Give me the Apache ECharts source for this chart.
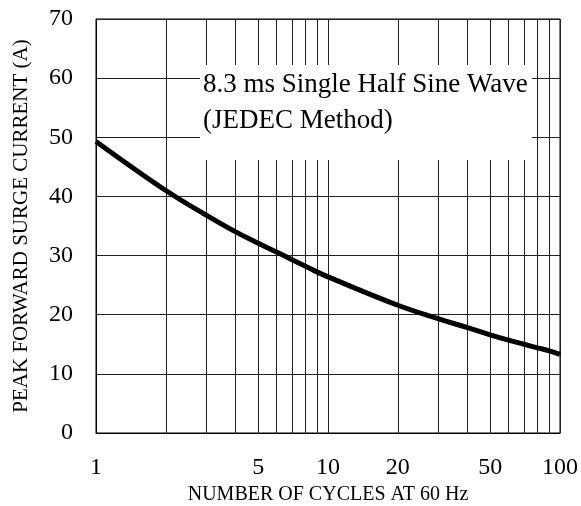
<!DOCTYPE html>
<html><head><meta charset="utf-8">
<script src="https://cdn.jsdelivr.net/npm/echarts@6/dist/echarts.min.js"></script>
<style>html,body{margin:0;padding:0;background:#fff}#c{width:581px;height:506px}</style>
</head><body><div id="c"></div>
<script>
const cycles = [1,2,3,4,5,6,7,8,9,10,20,30,40,50,60,70,80,90,100];
const surgeCurrent = [49.3,41.0,36.8,34.0,32.1,30.6,29.3,28.2,27.2,26.4,21.6,19.3,17.8,16.6,15.7,15.0,14.4,13.9,13.3];
const xGridValues = [1,2,3,4,5,6,7,8,9,10,20,30,40,50,60,70,80,90,100];
const xTickLabels = [1,5,10,20,50,100];
const yTickLabels = [0,10,20,30,40,50,60,70];
const xTitle = 'NUMBER OF CYCLES AT 60 Hz';
const yTitle = 'PEAK FORWARD SURGE CURRENT (A)';
const noteLines = ['8.3 ms Single Half Sine Wave', '(JEDEC Method)'];

const FONT = '"Liberation Serif", "Times New Roman", serif';
const chart = echarts.init(document.getElementById('c'), null, {renderer: 'canvas'});
const option = {
  animation: false,
  backgroundColor: '#fff',
  grid: {left: 96, right: 21, top: 19, bottom: 73, containLabel: false, outerBoundsMode: 'none',
         show: true, borderColor: '#000', borderWidth: 1, backgroundColor: 'transparent'},
  xAxis: {
    type: 'log', logBase: 10, min: 1, max: 100,
    name: xTitle, nameLocation: 'middle', nameGap: 50,
    nameTextStyle: {fontFamily: FONT, fontSize: 20, color: '#000'},
    axisLine: {show: true, lineStyle: {color: '#000', width: 1}},
    axisTick: {show: false, customValues: xGridValues},
    axisLabel: {customValues: xTickLabels, fontFamily: FONT, fontSize: 24, color: '#000', margin: 23,
                formatter: v => String(Math.round(v))},
    splitLine: {show: true, lineStyle: {color: '#222', width: 1}},
    minorSplitLine: {show: false}
  },
  yAxis: {
    type: 'value', min: 0, max: 70, interval: 10,
    name: yTitle, nameLocation: 'middle', nameGap: 64,
    nameTextStyle: {fontFamily: FONT, fontSize: 21, color: '#000'},
    axisLine: {show: true, lineStyle: {color: '#000', width: 1}},
    axisTick: {show: false},
    axisLabel: {customValues: yTickLabels, fontFamily: FONT, fontSize: 24, color: '#000', margin: 23},
    splitLine: {show: true, lineStyle: {color: '#222', width: 1}}
  },
  graphic: [
    {type: 'rect', z: 50, silent: true, shape: {x: 200, y: 65, width: 332, height: 95}, style: {fill: '#fff', stroke: null}},
    {type: 'text', z: 51, silent: true, x: 203, y: 85, style: {text: noteLines[0], font: '27px ' + FONT, fill: '#000', verticalAlign: 'middle', align: 'left'}},
    {type: 'text', z: 51, silent: true, x: 203, y: 121, style: {text: noteLines[1], font: '27px ' + FONT, fill: '#000', verticalAlign: 'middle', align: 'left'}}
  ],
  series: [{
    type: 'line', smooth: 0.4, symbol: 'none', z: 60,
    data: cycles.map((c, i) => [c, surgeCurrent[i]]),
    lineStyle: {color: '#000', width: 5}
  }]
};
chart.setOption(option);
</script></body></html>
